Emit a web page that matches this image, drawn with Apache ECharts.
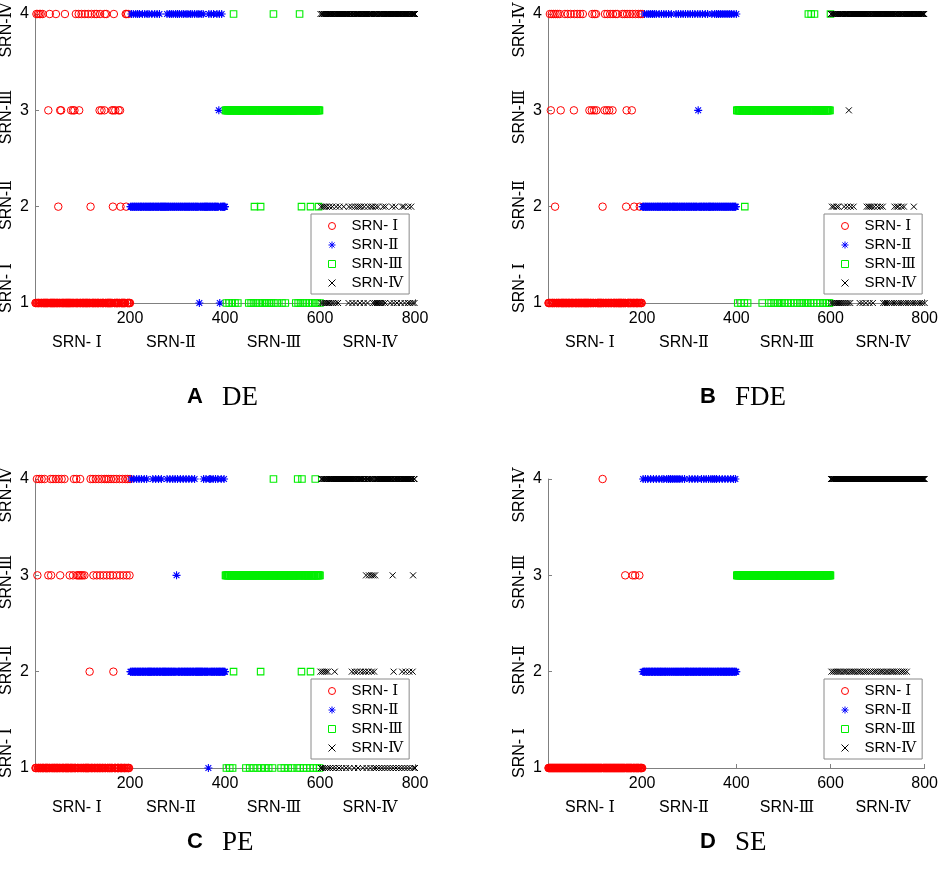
<!DOCTYPE html>
<html><head><meta charset="utf-8">
<script src="https://cdn.jsdelivr.net/npm/echarts@6/dist/echarts.min.js"></script>
<style>html,body{margin:0;padding:0;background:#fff}#c{width:941px;height:872px}</style>
</head><body><div id="c"></div><script>
// ---- categories / ticks ----
const classNames = ['SRN- Ⅰ', 'SRN-Ⅱ', 'SRN-Ⅲ', 'SRN-Ⅳ'];
const classFirst = [1, 201, 401, 601];
const classLast = [200, 400, 600, 800];
const xTicks = [200, 400, 600, 800];
const yTicks = [1, 2, 3, 4];
const panelLetters = ['A', 'B', 'C', 'D'];
const panelMethods = ['DE', 'FDE', 'PE', 'SE'];

// ---- misclassified sample indices (sample index -> predicted class row) ----
// A: DE
const DE_I_as2 = [49,117,164,180,192];
const DE_I_as3 = [28,53,55,76,80,83,93,136,140,146,162,165,169,176,179];
const DE_I_as4 = [3,6,9,12,16,31,44,63,86,92,98,105,112,119,126,130,137,147,150,166,191,193,196];
const DE_II_as1 = [346,389];
const DE_II_as3 = [387];
const DE_II_as4 = [203,207,212,216,220,226,231,236,240,246,252,257,262,278,283,287,291,296,300,304,309,313,318,322,327,331,336,341,345,350,354,366,371,376,383,388,393];
const DE_III_as1 = [403,409,415,421,427,450,455,460,466,472,478,483,488,493,498,503,510,520,527,549,554,559,565,571,577,583,589,594,600];
const DE_III_as2 = [462,475,561,580,597];
const DE_III_as4 = [418,502,557];
const DE_IV_as1 = [603,607,611,615,619,624,628,633,638,660,668,675,684,692,700,712,716,720,724,728,732,737,748,755,762,770,778,785,790,795,799];
const DE_IV_as2 = [602,606,610,614,620,626,634,641,650,661,667,674,679,683,687,693,701,707,711,717,722,733,738,752,759,773,777,786,792];
const DE_IV_as3 = [];
// B: FDE
const FDE_I_as2 = [15,116,166,183,195];
const FDE_I_as3 = [6,27,55,88,93,98,103,120,125,130,137,167,178];
const FDE_I_as4 = [4,8,12,16,20,25,36,42,48,56,62,68,74,94,99,102,121,126,132,138,144,147,158,163,168,174,180,186,192,197,200];
const FDE_II_as1 = [];
const FDE_II_as3 = [319];
const FDE_II_as4 = [205,210,214,218,222,226,230,236,241,246,251,256,262,272,277,282,287,292,297,302,307,312,318,323,328,334,339,348,354,358,362,366,370,374,378,382,386,390,395,400];
const FDE_III_as1 = [403,410,417,424,455,469,474,480,487,492,497,503,510,516,522,529,535,540,547,552,558,564,571,578,584,589,596,598];
const FDE_III_as2 = [418];
const FDE_III_as4 = [553,559,566,600];
const FDE_IV_as1 = [602,606,610,614,618,622,626,630,634,638,642,662,668,675,683,690,712,716,720,725,730,735,740,745,750,755,760,765,770,775,780,785,790,795,800];
const FDE_IV_as2 = [603,607,613,617,629,636,643,649,677,681,684,688,693,700,706,711,736,741,744,751,756,777];
const FDE_IV_as3 = [639];
// C: PE
const PE_I_as2 = [115,165];
const PE_I_as3 = [5,28,34,53,73,80,88,91,94,97,100,104,123,130,137,144,151,158,164,172,179,186,193,199];
const PE_I_as4 = [4,9,14,20,33,38,44,50,56,62,82,87,95,117,122,128,134,140,146,150,155,160,166,171,178,184,190,195,200];
const PE_II_as1 = [365];
const PE_II_as3 = [298];
const PE_II_as4 = [203,208,214,219,224,230,235,248,254,260,266,278,284,290,295,300,306,312,318,324,330,336,355,360,367,370,375,380,385,392,398];
const PE_III_as1 = [403,410,416,444,452,460,468,476,484,492,500,518,525,533,541,552,558,565,572,579,586,593,599];
const PE_III_as2 = [418,475,561,580];
const PE_III_as4 = [502,553,562,590];
const PE_IV_as1 = [602,606,611,616,621,627,633,640,647,655,662,672,680,690,698,706,713,718,724,730,736,742,748,754,760,766,772,778,784,790,797,800];
const PE_IV_as2 = [601,605,609,613,617,631,667,673,678,685,691,696,702,709,714,755,773,780,788,795];
const PE_IV_as3 = [697,703,708,712,716,753,796];
// D: SE
const SE_I_as2 = [];
const SE_I_as3 = [164,180,185,194];
const SE_I_as4 = [116];
const SE_II_as1 = [];
const SE_II_as3 = [];
const SE_II_as4 = [202,207,212,218,224,230,236,242,246,252,256,260,264,268,272,276,280,285,290,300,306,312,318,326,331,336,341,346,350,354,358,364,370,376,382,388,394,398];
const SE_III_as1 = [];
const SE_III_as2 = [];
const SE_III_as4 = [];
const SE_IV_as1 = [];
const SE_IV_as2 = [602,606,610,614,618,622,627,631,635,640,644,648,652,657,661,665,670,674,678,683,687,692,696,700,705,709,713,718,722,727,731,735,740,744,749,753,757,762];
const SE_IV_as3 = [];

// per panel: [class][predicted row] ; null = the class's own (correct) row
const panelRows = [
  [[null, DE_I_as2, DE_I_as3, DE_I_as4], [DE_II_as1, null, DE_II_as3, DE_II_as4], [DE_III_as1, DE_III_as2, null, DE_III_as4], [DE_IV_as1, DE_IV_as2, DE_IV_as3, null]],
  [[null, FDE_I_as2, FDE_I_as3, FDE_I_as4], [FDE_II_as1, null, FDE_II_as3, FDE_II_as4], [FDE_III_as1, FDE_III_as2, null, FDE_III_as4], [FDE_IV_as1, FDE_IV_as2, FDE_IV_as3, null]],
  [[null, PE_I_as2, PE_I_as3, PE_I_as4], [PE_II_as1, null, PE_II_as3, PE_II_as4], [PE_III_as1, PE_III_as2, null, PE_III_as4], [PE_IV_as1, PE_IV_as2, PE_IV_as3, null]],
  [[null, SE_I_as2, SE_I_as3, SE_I_as4], [SE_II_as1, null, SE_II_as3, SE_II_as4], [SE_III_as1, SE_III_as2, null, SE_III_as4], [SE_IV_as1, SE_IV_as2, SE_IV_as3, null]]
];

// ---- styles ----
const ASTERISK = 'path://M0,-1L0,1M-1,0L1,0M-0.72,-0.72L0.72,0.72M-0.72,0.72L0.72,-0.72';
const CROSS = 'path://M-1,-1L1,1M-1,1L1,-1';
const classColors = ['#ff0000', '#0000ff', '#00ee00', '#000000'];
const classSymbols = ['circle', ASTERISK, 'rect', CROSS];
const classSizes = [7.5, 8, 6.5, 6];
const classBorder = [1, 1.1, 1.1, 1];

const grids = [
  {left: 35, top: 14, width: 380, height: 289},
  {left: 548, top: 14, width: 380, height: 289},
  {left: 35, top: 479, width: 380, height: 289},
  {left: 548, top: 479, width: 380, height: 289}
];
const SANS = 'Liberation Sans, Arial, sans-serif';
const SERIF = 'Liberation Serif, Times New Roman, serif';
const NUMF = 'DejaVu Serif, Noto Sans CJK SC, serif';

function richName(name) {
  const k = name.search(/[ⅠⅡⅢⅣ]/);
  return '{s|' + name.slice(0, k) + '}{n|' + name.slice(k) + '}';
}
function richStyles(size) {
  return {
    s: {fontFamily: SANS, fontSize: size, fill: '#000', color: '#000'},
    n: {fontFamily: NUMF, fontSize: size, fill: '#000', color: '#000'}
  };
}

const series = [];
const xAxes = [], yAxes = [], legends = [], graphics = [];
for (let p = 0; p < 4; p++) {
  xAxes.push({
    type: 'value', gridIndex: p, min: 0, max: 800, interval: 200,
    axisLine: {show: true, onZero: false, lineStyle: {color: '#808080', width: 1}},
    axisTick: {show: true, inside: true, length: 4, lineStyle: {color: '#808080'}},
    axisLabel: {formatter: v => xTicks.includes(v) ? String(v) : '', color: '#000', fontSize: 16, fontFamily: SANS, margin: 8},
    splitLine: {show: false}
  });
  yAxes.push({
    type: 'value', gridIndex: p, min: 1, max: 4, interval: 1,
    axisLine: {show: true, onZero: false, lineStyle: {color: '#808080', width: 1}},
    axisTick: {show: true, inside: true, length: 4, lineStyle: {color: '#808080'}},
    axisLabel: {formatter: v => yTicks.includes(v) ? String(v) : '', color: '#000', fontSize: 16, fontFamily: SANS, margin: 6},
    splitLine: {show: false}
  });
  for (let c = 0; c < 4; c++) {
    const rows = panelRows[p][c];
    const mis = new Set();
    rows.forEach(r => { if (r) r.forEach(i => mis.add(i)); });
    const data = [];
    for (let r = 0; r < 4; r++) {
      if (rows[r] === null) {
        for (let i = classFirst[c]; i <= classLast[c]; i++) if (!mis.has(i)) data.push([i, yTicks[r]]);
      } else {
        rows[r].forEach(i => data.push([i, yTicks[r]]));
      }
    }
    series.push({
      type: 'scatter', name: classNames[c], xAxisIndex: p, yAxisIndex: p, data,
      symbol: classSymbols[c], symbolSize: classSizes[c], clip: false,
      itemStyle: {color: 'rgba(0,0,0,0)', borderColor: classColors[c], borderWidth: classBorder[c], opacity: 1},
      emphasis: {disabled: true}, silent: true, z: 2 + c
    });
  }
  const g = grids[p];
  legends.push({
    orient: 'vertical', left: g.left + 276, top: g.top + 200,
    backgroundColor: '#fff', borderColor: '#8a8a8a', borderWidth: 1,
    padding: [4, 6, 3, 17], itemGap: 3, itemWidth: 7, itemHeight: 7,
    selectedMode: false,
    formatter: name => richName(name),
    textStyle: {fontSize: 15, lineHeight: 16, color: '#000', fontFamily: SANS, padding: [0, 0, 0, 11], rich: richStyles(15)},
    data: classNames.map((n, c) => ({
      name: n, icon: classSymbols[c],
      itemStyle: {color: 'rgba(0,0,0,0)', borderColor: classColors[c], borderWidth: 1}
    }))
  });
  // category titles below x axis
  const xCenters = [42, 136, 239, 335];
  classNames.forEach((n, c) => graphics.push({
    type: 'text', x: g.left + xCenters[c], y: g.top + g.height + 40, silent: true,
    style: {text: richName(n), rich: richStyles(16), align: 'center', verticalAlign: 'middle', fontSize: 16, fontFamily: SANS, fill: '#000'}
  }));
  // rotated category titles along y axis
  const yCenters = [274, 191, 103, 16];
  classNames.forEach((n, c) => graphics.push({
    type: 'text', x: g.left - 28, y: g.top + yCenters[c], rotation: Math.PI / 2, silent: true,
    style: {text: richName(n), rich: richStyles(16), align: 'center', verticalAlign: 'middle', fontSize: 16, fontFamily: SANS, fill: '#000'}
  }));
  // panel caption
  const capY = p < 2 ? 397 : 842;
  graphics.push({
    type: 'text', x: g.left + 168, y: capY, silent: true,
    style: {text: panelLetters[p], align: 'right', verticalAlign: 'middle', fontSize: 22, fontWeight: 'bold', fontFamily: SANS, fill: '#000'}
  });
  graphics.push({
    type: 'text', x: g.left + 187, y: capY + 1, silent: true,
    style: {text: panelMethods[p], align: 'left', verticalAlign: 'middle', fontSize: 27, fontFamily: SERIF, fill: '#000'}
  });
}

const chart = echarts.init(document.getElementById('c'), null, {renderer: 'canvas'});
chart.setOption({
  animation: false,
  backgroundColor: '#fff',
  grid: grids,
  xAxis: xAxes,
  yAxis: yAxes,
  legend: legends,
  series: series,
  graphic: graphics
});
</script></body></html>
